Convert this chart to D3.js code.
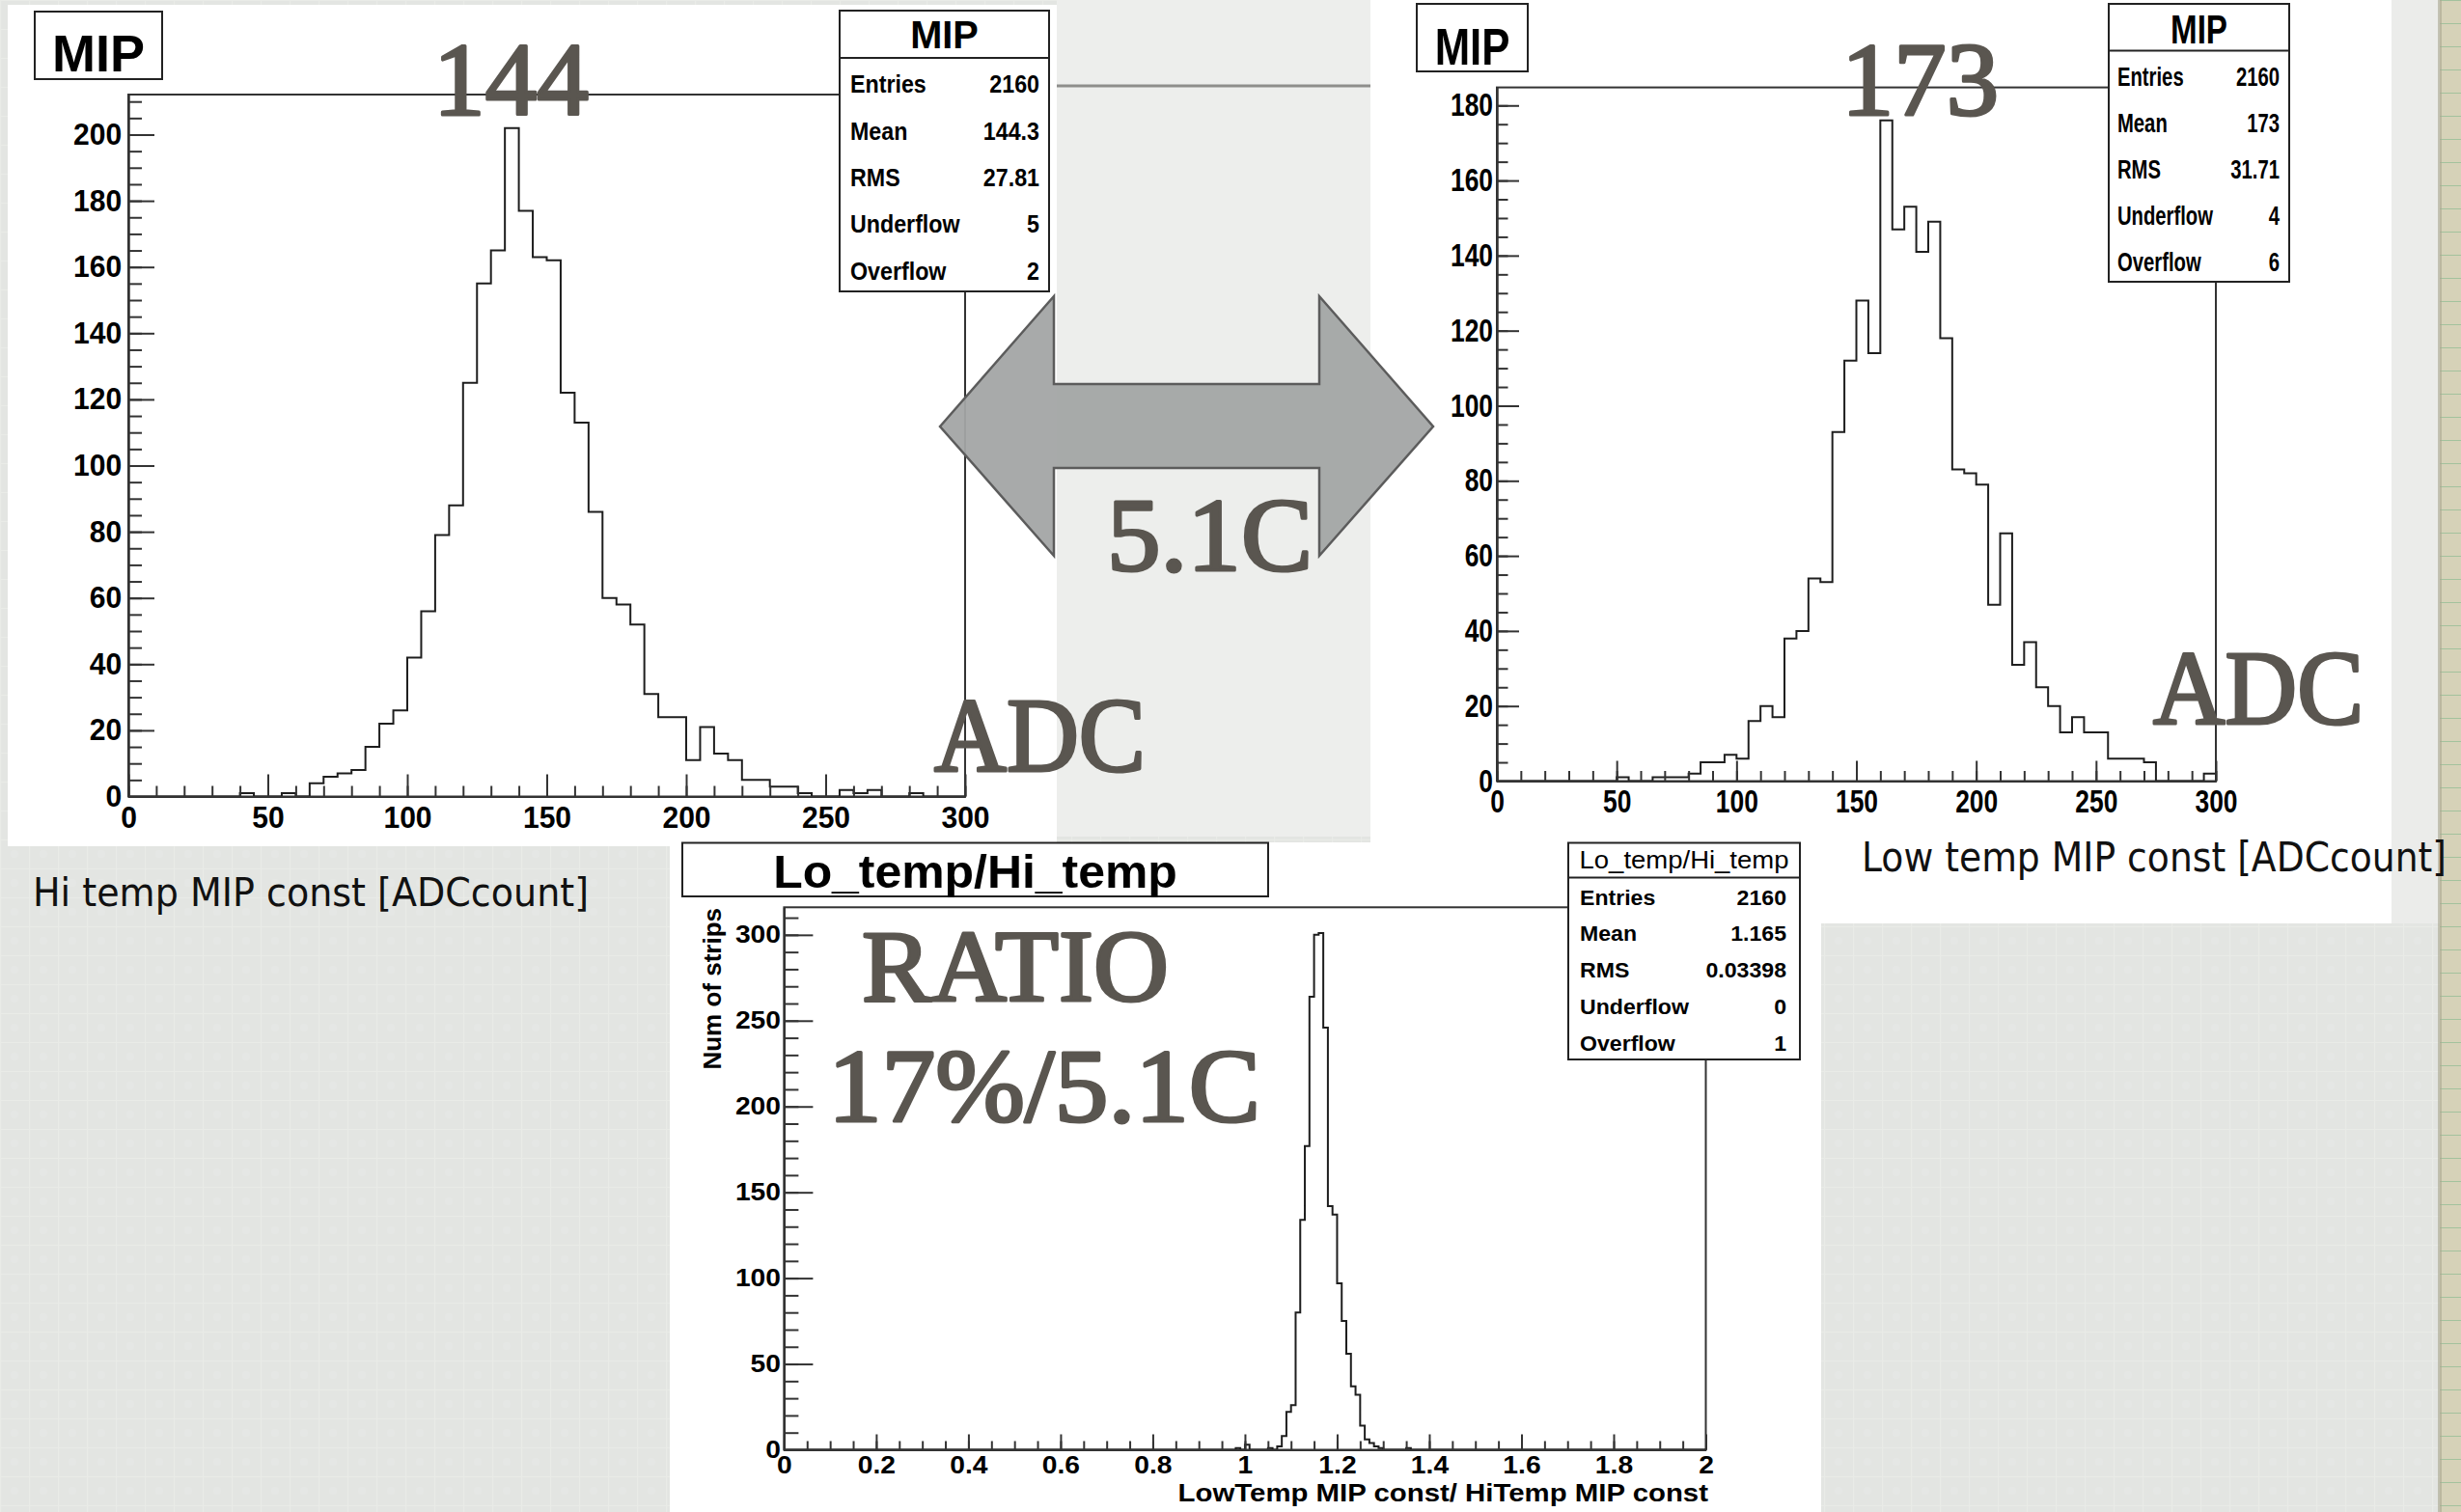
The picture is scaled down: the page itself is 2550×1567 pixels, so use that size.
<!DOCTYPE html>
<html>
<head>
<meta charset="utf-8">
<script src="https://cdn.jsdelivr.net/npm/d3@7"></script>
<style>
  body { margin: 0; background: #e4e6e3; }
  svg { display: block; }
</style>
</head>
<body>
<div id="chart"></div>
<script>
// ---- data ----
// Hi temp MIP constants, 60 bins of 5 ADC from 0 to 300
const hiTempCounts = [0, 0, 0, 0, 0, 0, 0, 0, 1, 0, 0, 1, 0, 4, 6, 7, 8, 15, 22, 26,
  42, 56, 79, 88, 125, 155, 165, 202, 177, 163, 162, 122, 113, 86, 60, 58, 52, 31, 24, 24,
  11, 21, 13, 11, 5, 5, 3, 3, 1, 0, 0, 2, 1, 2, 0, 0, 1, 0, 0, 0];
// Low temp MIP constants, same binning
const loTempCounts = [0, 0, 0, 0, 0, 0, 0, 0, 0, 0, 1, 0, 0, 1, 1, 1, 2, 5, 5, 7,
  6, 16, 20, 17, 38, 40, 54, 53, 93, 112, 128, 114, 176, 147, 153, 141, 149, 118, 83, 82,
  79, 47, 66, 31, 37, 25, 20, 13, 17, 13, 13, 6, 6, 6, 5, 0, 0, 0, 0, 2];
// ratio histogram, bins of 0.01 from 0 to 2 (only non-empty bins listed)
const ratioBinStarts = [0.98, 1.00, 1.05, 1.07, 1.08, 1.09, 1.10, 1.11, 1.12, 1.13, 1.14, 1.15, 1.16,
  1.17, 1.18, 1.19, 1.20, 1.21, 1.22, 1.23, 1.24, 1.25, 1.26, 1.27, 1.28, 1.29, 1.35];
const ratioBinCounts = [1, 3, 1, 2, 8, 22, 26, 80, 134, 177, 264, 300, 301,
  246, 142, 137, 97, 75, 56, 37, 32, 14, 6, 4, 2, 1, 1];

const hiTempStats = [["Entries", "2160"], ["Mean", "144.3"], ["RMS", "27.81"], ["Underflow", "5"], ["Overflow", "2"]];
const loTempStats = [["Entries", "2160"], ["Mean", "173"], ["RMS", "31.71"], ["Underflow", "4"], ["Overflow", "6"]];
const ratioStats = [["Entries", "2160"], ["Mean", "1.165"], ["RMS", "0.03398"], ["Underflow", "0"], ["Overflow", "1"]];

const adcTicks = [0, 50, 100, 150, 200, 250, 300];
const hiTempYTicks = [0, 20, 40, 60, 80, 100, 120, 140, 160, 180, 200];
const loTempYTicks = [0, 20, 40, 60, 80, 100, 120, 140, 160, 180];
const ratioXTicks = [0, 0.2, 0.4, 0.6, 0.8, 1, 1.2, 1.4, 1.6, 1.8, 2];
const ratioYTicks = [0, 50, 100, 150, 200, 250, 300];

// build full ratio bin table
const ratioCounts = new Array(200).fill(0);
ratioBinStarts.forEach((s, i) => { ratioCounts[Math.round(s * 100)] = ratioBinCounts[i]; });

// ---- page ----
const W = 2550, H = 1567;
const ROOT_FONT = "'Liberation Sans', Arial, sans-serif";
const SERIF = "'Liberation Serif', 'DejaVu Serif', serif";
const SLIDE_FONT = "'DejaVu Sans', Verdana, sans-serif";
const overlayColor = "#5a5650";

const svg = d3.select("#chart").append("svg").attr("width", W).attr("height", H);
const defs = svg.append("defs");

// graph paper texture for the slide background
const paper = defs.append("pattern").attr("id", "paper").attr("width", 30).attr("height", 30)
  .attr("patternUnits", "userSpaceOnUse");
paper.append("rect").attr("width", 30).attr("height", 30).attr("fill", "#e3e5e2");
paper.append("path").attr("d", "M0 0.5H30M0.5 0V30").attr("stroke", "#eceeeb")
  .attr("stroke-opacity", 0.6).attr("stroke-width", 1.2);
paper.append("circle").attr("cx", 15).attr("cy", 15).attr("r", 4).attr("fill", "#e8eae7").attr("opacity", 0.5);
const ruled = defs.append("pattern").attr("id", "ruled").attr("width", 22).attr("height", 24)
  .attr("patternUnits", "userSpaceOnUse");
ruled.append("rect").attr("width", 22).attr("height", 24).attr("fill", "#d6d2b8");
ruled.append("path").attr("d", "M0 0.5H22").attr("stroke", "#a3c29d").attr("stroke-width", 1);

svg.append("rect").attr("width", W).attr("height", H).attr("fill", "url(#paper)");

// right margin of the slide
svg.append("rect").attr("x", 2478).attr("y", 0).attr("width", 50).attr("height", 957).attr("fill", "#ebecea");
svg.append("rect").attr("x", 2528).attr("y", 0).attr("width", 22).attr("height", H).attr("fill", "url(#ruled)");
svg.append("rect").attr("x", 2526).attr("y", 0).attr("width", 4).attr("height", H).attr("fill", "#a8a690").attr("opacity", 0.6);

// middle strip behind the arrow
svg.append("rect").attr("x", 1095).attr("y", 0).attr("width", 327).attr("height", 867).attr("fill", "#edeeec");
svg.append("line").attr("x1", 1095).attr("x2", 1422).attr("y1", 89).attr("y2", 89)
  .attr("stroke", "#8e8e8b").attr("stroke-width", 3);

// white picture panels
svg.append("rect").attr("x", 8).attr("y", 5).attr("width", 1087).attr("height", 872).attr("fill", "#fff");
svg.append("rect").attr("x", 1420).attr("y", 0).attr("width", 1058).attr("height", 957).attr("fill", "#fff");
svg.append("rect").attr("x", 694).attr("y", 873).attr("width", 1193).attr("height", 694).attr("fill", "#fff");

function label(g, x, y, txt, o) {
  return g.append("text")
    .attr("transform", `translate(${x},${y}) scale(${o.sx || 1},1)`)
    .attr("text-anchor", o.anchor || "start")
    .attr("font-family", o.family || ROOT_FONT)
    .attr("font-weight", o.weight || "bold")
    .attr("font-size", o.size)
    .attr("fill", o.fill || "#000")
    .text(txt);
}

function drawHist(c) {
  const g = svg.append("g");
  const x = d3.scaleLinear().domain([c.xmin, c.xmax]).range([c.left, c.right]);
  const y = d3.scaleLinear().domain([0, d3.max(c.counts) * 1.05]).range([c.bottom, c.top]);
  const bw = (c.xmax - c.xmin) / c.counts.length;

  g.append("rect").attr("x", c.left).attr("y", c.top).attr("width", c.right - c.left)
    .attr("height", c.bottom - c.top).attr("fill", "#fff").attr("stroke", "#333").attr("stroke-width", 2);

  const pts = [[c.xmin, 0]];
  c.counts.forEach((v, i) => {
    const a = c.xmin + i * bw;
    pts.push([a, v], [a + bw, v]);
  });
  pts.push([c.xmax, 0]);
  g.append("path").datum(pts)
    .attr("d", d3.line().x(d => x(d[0])).y(d => y(d[1])))
    .attr("fill", "none").attr("stroke", "#1e1e1e").attr("stroke-width", 2);

  const styleAxis = (sel) => {
    sel.attr("font-size", null).attr("font-family", null);
    sel.selectAll("path,line").attr("stroke", "#333").attr("stroke-width", 2);
  };

  // minor ticks
  const yMax = y.domain()[1];
  g.append("g").attr("transform", `translate(0,${c.bottom})`)
    .call(d3.axisBottom(x).tickValues(d3.range(c.xmin, c.xmax + 1e-9, c.xMinor))
      .tickSizeInner(-c.xMinorLen).tickSizeOuter(0).tickFormat(""))
    .call(styleAxis);
  g.append("g").attr("transform", `translate(${c.left},0)`)
    .call(d3.axisLeft(y).tickValues(d3.range(0, yMax, c.yMinor))
      .tickSizeInner(-c.yMinorLen).tickSizeOuter(0).tickFormat(""))
    .call(styleAxis);

  // major ticks with labels
  const xa = g.append("g").attr("transform", `translate(0,${c.bottom})`)
    .call(d3.axisBottom(x).tickValues(c.xTicks).tickSizeInner(-c.xMajorLen).tickSizeOuter(0)
      .tickPadding(c.xPad).tickFormat(c.xFmt || (d => d)))
    .call(styleAxis);
  xa.selectAll("text").attr("font-family", ROOT_FONT).attr("font-weight", "bold")
    .attr("font-size", c.tickSize).attr("fill", "#000").attr("transform", `scale(${c.sx},1)`);

  const ya = g.append("g").attr("transform", `translate(${c.left},0)`)
    .call(d3.axisLeft(y).tickValues(c.yTicks).tickSizeInner(-c.yMajorLen).tickSizeOuter(0)
      .tickPadding(c.yPad))
    .call(styleAxis);
  ya.selectAll("text").attr("font-family", ROOT_FONT).attr("font-weight", "bold")
    .attr("font-size", c.tickSize).attr("fill", "#000").attr("transform", `scale(${c.sx},1)`);
  return g;
}

function drawStats(s) {
  const g = svg.append("g");
  g.append("rect").attr("x", s.x).attr("y", s.y).attr("width", s.w).attr("height", s.h)
    .attr("fill", "#fff").attr("stroke", "#222").attr("stroke-width", 2);
  g.append("line").attr("x1", s.x).attr("x2", s.x + s.w).attr("y1", s.y + s.titleH).attr("y2", s.y + s.titleH)
    .attr("stroke", "#222").attr("stroke-width", 2);
  label(g, s.x + s.w / 2, s.titleBase, s.title,
    { anchor: "middle", size: s.titleSize, sx: s.titleSx, weight: s.titleWeight || "bold" });
  const rowH = (s.h - s.titleH) / s.rows.length;
  s.rows.forEach((r, i) => {
    const cy = s.y + s.titleH + rowH * (i + 0.5) + s.rowShift;
    label(g, s.x + s.padL, cy + s.rowSize * 0.36, r[0], { size: s.rowSize, sx: s.sx });
    label(g, s.x + s.w - s.padR, cy + s.rowSize * 0.36, r[1], { anchor: "end", size: s.rowSize, sx: s.sx });
  });
}

function titleBox(b) {
  svg.append("rect").attr("x", b.x).attr("y", b.y).attr("width", b.w).attr("height", b.h)
    .attr("fill", "#fff").attr("stroke", "#222").attr("stroke-width", 2);
  label(svg, b.x + b.w / 2, b.base, b.text, { anchor: "middle", size: b.size, sx: b.sx });
}

// ---- left: Hi temp ----
drawHist({ counts: hiTempCounts, xmin: 0, xmax: 300, left: 133, right: 1000, top: 98, bottom: 825.5,
  xTicks: adcTicks, xMinor: 10, yTicks: hiTempYTicks, yMinor: 5,
  xMajorLen: 23, xMinorLen: 11, yMajorLen: 27, yMinorLen: 14,
  tickSize: 31, sx: 0.97, xPad: 10, yPad: 7 });
drawStats({ x: 870, y: 11, w: 217, h: 291, titleH: 49, title: "MIP", titleBase: 50, titleSize: 41, titleSx: 0.97,
  rows: hiTempStats, rowSize: 25, sx: 0.93, padL: 11, padR: 10, rowShift: 3 });
titleBox({ x: 36, y: 12, w: 132, h: 70, text: "MIP", base: 74, size: 54, sx: 1 });

// ---- right: Low temp ----
drawHist({ counts: loTempCounts, xmin: 0, xmax: 300, left: 1551, right: 2296, top: 90.6, bottom: 809.5,
  xTicks: adcTicks, xMinor: 10, yTicks: loTempYTicks, yMinor: 5,
  xMajorLen: 21, xMinorLen: 10.5, yMajorLen: 23, yMinorLen: 11.5,
  tickSize: 33, sx: 0.8, xPad: 9, yPad: 5 });
drawStats({ x: 2185, y: 4, w: 187, h: 288, titleH: 48.5, title: "MIP", titleBase: 45, titleSize: 42, titleSx: 0.79,
  rows: loTempStats, rowSize: 27, sx: 0.75, padL: 9, padR: 10, rowShift: 3 });
titleBox({ x: 1468, y: 4, w: 115, h: 70, text: "MIP", base: 67, size: 54, sx: 0.81 });

// ---- bottom: ratio ----
drawHist({ counts: ratioCounts, xmin: 0, xmax: 2, left: 812.4, right: 1767.5, top: 940.3, bottom: 1502.5,
  xTicks: ratioXTicks, xMinor: 0.05, yTicks: ratioYTicks, yMinor: 10,
  xMajorLen: 16, xMinorLen: 9, yMajorLen: 30, yMinorLen: 15,
  tickSize: 25, sx: 1.13, xPad: 6.5, yPad: 3, xFmt: d => String(+d.toFixed(1)) });
drawStats({ x: 1625, y: 873.5, w: 240, h: 224.5, titleH: 36, title: "Lo_temp/Hi_temp", titleBase: 900,
  titleSize: 25, titleSx: 1.1, titleWeight: "normal",
  rows: ratioStats, rowSize: 22, sx: 1.05, padL: 12, padR: 14, rowShift: 1.5 });
titleBox({ x: 707, y: 873.5, w: 607, h: 55.5, text: "Lo_temp/Hi_temp", base: 920, size: 48, sx: 1.04 });
label(svg, 0, 0, "Num of strips", { size: 26, anchor: "end" })
  .attr("transform", "translate(747,941) rotate(-90)");
label(svg, 1770, 1556, "LowTemp MIP const/ HiTemp MIP const", { size: 26, sx: 1.13, anchor: "end" });

// ---- slide axis captions ----
svg.append("text").attr("x", 34).attr("y", 939).attr("font-family", SLIDE_FONT).attr("font-size", 41)
  .attr("textLength", 576).attr("lengthAdjust", "spacingAndGlyphs").attr("fill", "#111")
  .text("Hi temp MIP const [ADCcount]");
svg.append("text").attr("x", 1929).attr("y", 903).attr("font-family", SLIDE_FONT).attr("font-size", 43)
  .attr("textLength", 606).attr("lengthAdjust", "spacingAndGlyphs").attr("fill", "#111")
  .text("Low temp MIP const [ADCcount]");

// ---- double arrow ----
const arrowPts = [[974, 442], [1092, 307], [1092, 398], [1367, 398], [1367, 307], [1485, 442],
  [1367, 576], [1367, 485], [1092, 485], [1092, 576]];
svg.append("path").attr("d", d3.line()(arrowPts) + "Z")
  .attr("fill", "#a3a5a5").attr("fill-opacity", 0.95).attr("stroke", "#5c5c5c").attr("stroke-width", 2.5);

// ---- big overlay annotations ----
const overlays = [
  { t: "144", x: 449, y: 119, len: 161, size: 108 },
  { t: "173", x: 1908, y: 119, len: 163, size: 108 },
  { t: "ADC", x: 968, y: 799, len: 219, size: 110 },
  { t: "ADC", x: 2231, y: 750, len: 218, size: 110 },
  { t: "5.1C", x: 1147, y: 591, len: 213, size: 107 },
  { t: "RATIO", x: 893, y: 1037, len: 318, size: 106 },
  { t: "17%/5.1C", x: 858, y: 1162, len: 448, size: 108 }
];
svg.selectAll("text.overlay").data(overlays).join("text").attr("class", "overlay")
  .attr("x", d => d.x).attr("y", d => d.y)
  .attr("font-family", SERIF).attr("font-size", d => d.size)
  .attr("textLength", d => d.len).attr("lengthAdjust", "spacingAndGlyphs")
  .attr("fill", overlayColor).attr("stroke", overlayColor).attr("stroke-width", 3.2)
  .attr("stroke-linejoin", "round")
  .text(d => d.t);
</script>
</body>
</html>
